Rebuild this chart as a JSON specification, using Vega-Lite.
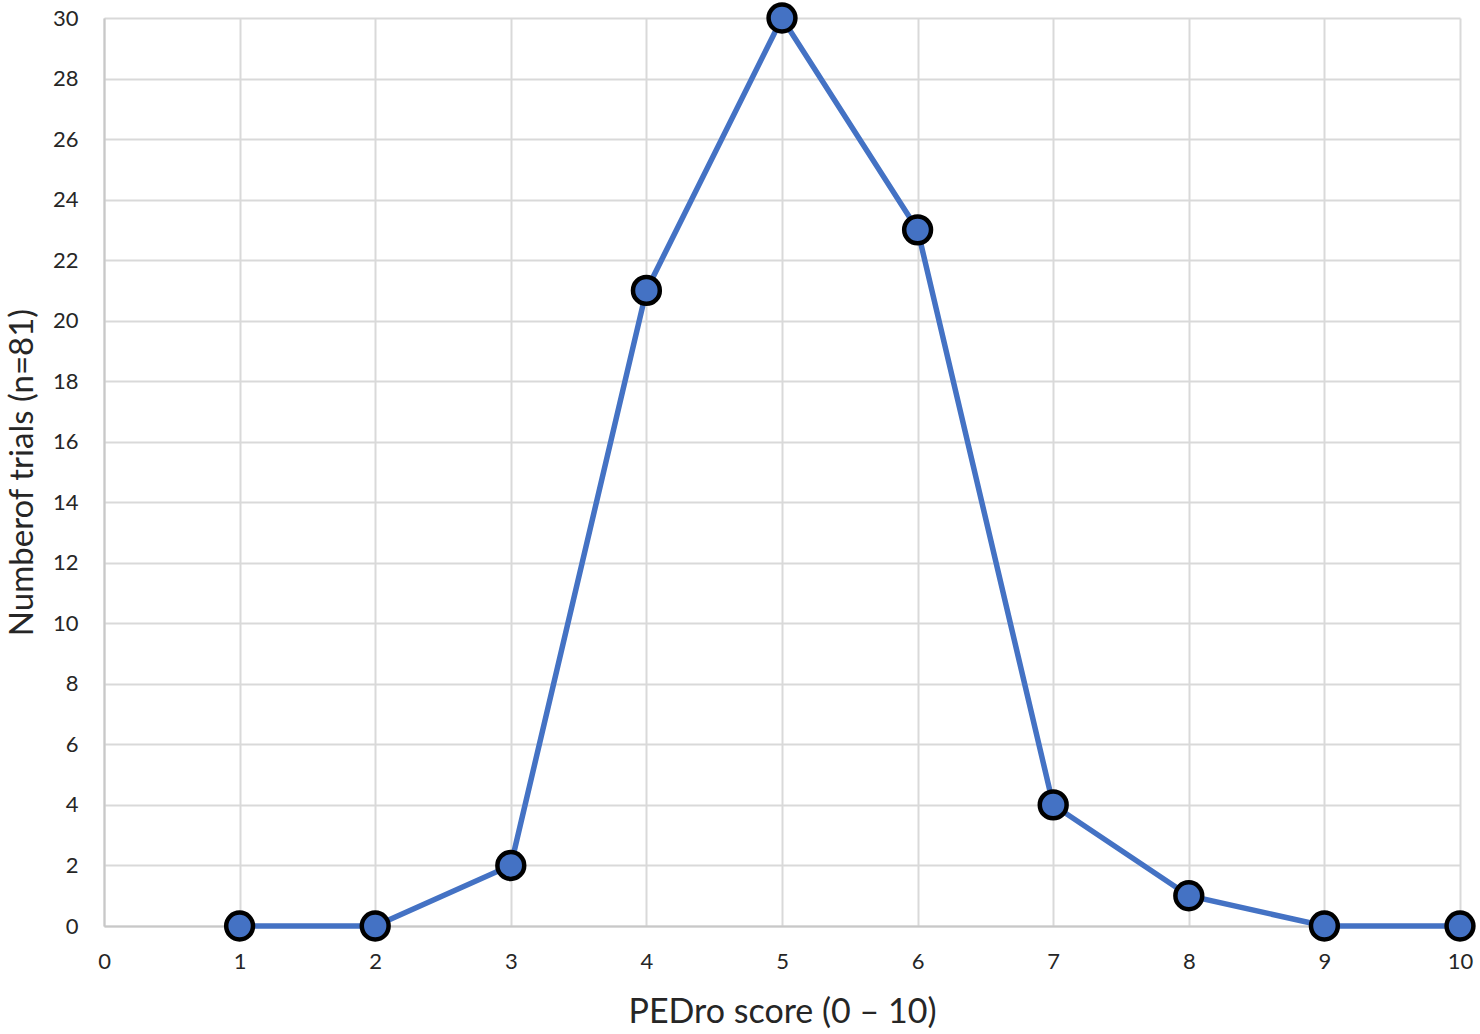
{
  "$schema": "https://vega.github.io/schema/vega-lite/v6.json",
  "width": 1356,
  "height": 908,
  "autosize": "none",
  "padding": {"left": 104, "top": 18, "right": 20, "bottom": 108},
  "background": "white",
  "config": {
    "view": {"stroke": null},
    "font": "Lato",
    "axis": {"labelFont": "Lato", "titleFont": "Lato", "labelColor": "#262626", "titleColor": "#262626", "titleFontWeight": "normal", "gridColor": "#d9d9d9", "gridWidth": 2, "domainColor": "#c8c8c8", "domainWidth": 2, "ticks": false, "labelFlush": false, "labelOverlap": false}
  },
  "data": {"values": [
    {"score": 1, "trials": 0},
    {"score": 2, "trials": 0},
    {"score": 3, "trials": 2},
    {"score": 4, "trials": 21},
    {"score": 5, "trials": 30},
    {"score": 6, "trials": 23},
    {"score": 7, "trials": 4},
    {"score": 8, "trials": 1},
    {"score": 9, "trials": 0},
    {"score": 10, "trials": 0}
  ]},
  "encoding": {
    "x": {"field": "score", "type": "quantitative", "scale": {"domain": [0, 10], "nice": false, "zero": false},
      "axis": {"values": [0,1,2,3,4,5,6,7,8,9,10], "title": "PEDro score (0 – 10)", "labelFontSize": 22, "titleFontSize": 34, "labelPadding": 25, "titleY": 86, "titleBaseline": "middle", "domain": true, "grid": true}},
    "y": {"field": "trials", "type": "quantitative", "scale": {"domain": [0, 30], "nice": false},
      "axis": {"values": [0,2,4,6,8,10,12,14,16,18,20,22,24,26,28,30], "title": "Numberof trials (n=81)", "labelFontSize": 22, "titleFontSize": 33, "labelPadding": 26, "titleX": -82, "titleBaseline": "middle", "domain": true, "grid": true}}
  },
  "layer": [
    {"mark": {"type": "line", "color": "#4472C4", "strokeWidth": 5.5}},
    {"mark": {"type": "point", "filled": true, "fill": "#4472C4", "stroke": "#000000", "strokeWidth": 4.5, "size": 720, "opacity": 1}}
  ]
}
